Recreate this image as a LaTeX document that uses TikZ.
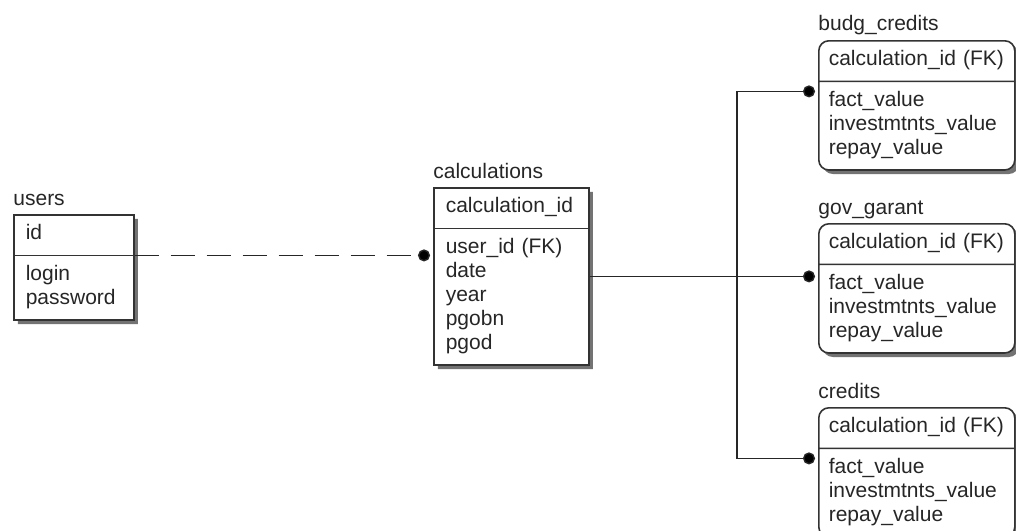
\documentclass[tikz,border=0pt]{standalone}
\usepackage{fontspec}
\setmainfont{Liberation Sans}
\usetikzlibrary{shapes.multipart,shadows,arrows.meta}
\tikzset{ent/.style={rectangle split, rectangle split parts=2,
        draw=black!80, line width=0.8pt, fill=white,
        anchor=north west, align=left, inner xsep=6pt, inner ysep=3.75pt,
        font=\fontsize{10.5}{12}\selectfont, text=black!85,
        drop shadow={shadow xshift=2pt, shadow yshift=-2pt, fill=black!55, opacity=1}},
    dep/.style={ent, rounded corners=5pt, inner xsep=5pt, text width=88pt},
    tname/.style={anchor=base west, inner sep=0pt,
        font=\fontsize{10.5}{12}\selectfont, text=black!85},
    rel/.style={draw=black!85, line width=0.7pt, -{Circle[length=6pt]}, shorten >=1.5pt},
    }

\begin{document}
\begin{tikzpicture}[x=0.5pt,y=-0.5pt]
	\useasboundingbox (0,0) rectangle (1016,530);
	% tables
	\node[ent, text width=48pt] (users) at (13,214)
		{\strut id\strut\nodepart{two}\strut login\\password\strut};
	\node[ent, text width=65.5pt] (calc) at (433,187)
		{\strut calculation\_id\strut\nodepart{two}\strut user\_id (FK)\\date\\year\\pgobn\\pgod\strut};
	\node[dep] (budg) at (818,40)
		{\strut calculation\_id (FK)\strut\nodepart{two}\strut fact\_value\\investmtnts\_value\\repay\_value\strut};
	\node[dep] (gov) at (818,223)
		{\strut calculation\_id (FK)\strut\nodepart{two}\strut fact\_value\\investmtnts\_value\\repay\_value\strut};
	\node[dep] (credits) at (818,407)
		{\strut calculation\_id (FK)\strut\nodepart{two}\strut fact\_value\\investmtnts\_value\\repay\_value\strut};
	% table names
	\node[tname] (usersT) at ([yshift=4.5pt]users.north west) {users};
	\node[tname] (calcT) at ([yshift=4.5pt]calc.north west) {calculations};
	\node[tname] (budgT) at ([yshift=4.5pt]budg.north west) {budg\_credits};
	\node[tname] (govT) at ([yshift=4.5pt]gov.north west) {gov\_garant};
	\node[tname] (creditsT) at ([yshift=4.5pt]credits.north west) {credits};
	% relations
	\coordinate (bus) at (737,0);
	\draw[rel, dash pattern=on 12pt off 6pt] (users.text split east) -- (users.text split east -| calc.west);
	\draw[rel] (calc.east) -- (calc.east -| gov.west);
	\draw[rel] (calc.east -| bus) |- ([yshift=-5pt]budg.text split west);
	\draw[rel] (calc.east -| bus) |- ([yshift=-5pt]credits.text split west);
\end{tikzpicture}
\end{document}
